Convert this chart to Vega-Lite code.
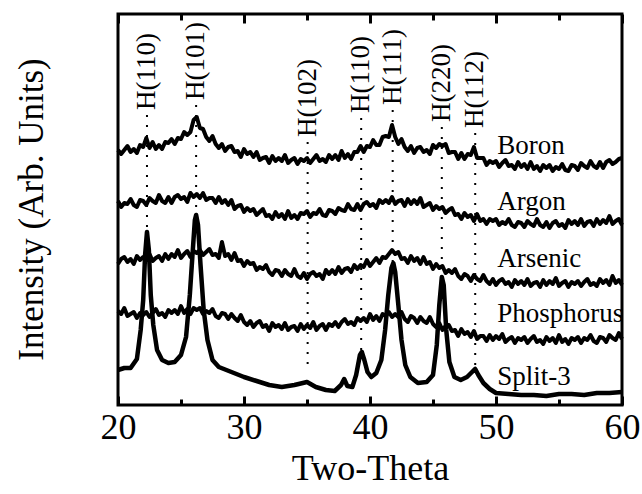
{
  "$schema": "https://vega.github.io/schema/vega-lite/v6.json",
  "width": 504,
  "height": 391,
  "autosize": {"type": "none"},
  "padding": {"left": 118, "top": 14, "right": 20, "bottom": 89},
  "background": "white",
  "config": {
    "view": {"stroke": "black", "strokeWidth": 3},
    "font": "Liberation Serif"
  },
  "datasets": {
    "traces": [
      {"s":"Boron","x":20,"y":255},{"s":"Boron","x":20.25,"y":251},{"s":"Boron","x":20.5,"y":255},{"s":"Boron","x":20.75,"y":259},{"s":"Boron","x":21,"y":253},{"s":"Boron","x":21.25,"y":256},{"s":"Boron","x":21.5,"y":252},{"s":"Boron","x":21.75,"y":260},{"s":"Boron","x":22,"y":258},{"s":"Boron","x":22.25,"y":267},{"s":"Boron","x":22.5,"y":257},{"s":"Boron","x":22.75,"y":263},{"s":"Boron","x":23,"y":256},{"s":"Boron","x":23.25,"y":260},{"s":"Boron","x":23.5,"y":256},{"s":"Boron","x":23.75,"y":263},{"s":"Boron","x":24,"y":262},{"s":"Boron","x":24.25,"y":266},{"s":"Boron","x":24.5,"y":261},{"s":"Boron","x":24.75,"y":267},{"s":"Boron","x":25,"y":266},{"s":"Boron","x":25.25,"y":273},{"s":"Boron","x":25.5,"y":270},{"s":"Boron","x":25.75,"y":273},{"s":"Boron","x":26,"y":285},{"s":"Boron","x":26.25,"y":288},{"s":"Boron","x":26.5,"y":277},{"s":"Boron","x":26.75,"y":276},{"s":"Boron","x":27,"y":268},{"s":"Boron","x":27.25,"y":264},{"s":"Boron","x":27.5,"y":269},{"s":"Boron","x":27.75,"y":261},{"s":"Boron","x":28,"y":257},{"s":"Boron","x":28.25,"y":261},{"s":"Boron","x":28.5,"y":254},{"s":"Boron","x":28.75,"y":258},{"s":"Boron","x":29,"y":259},{"s":"Boron","x":29.25,"y":253},{"s":"Boron","x":29.5,"y":254},{"s":"Boron","x":29.75,"y":248},{"s":"Boron","x":30,"y":256},{"s":"Boron","x":30.25,"y":251},{"s":"Boron","x":30.5,"y":253},{"s":"Boron","x":30.75,"y":248},{"s":"Boron","x":31,"y":253},{"s":"Boron","x":31.25,"y":245},{"s":"Boron","x":31.5,"y":247},{"s":"Boron","x":31.75,"y":248},{"s":"Boron","x":32,"y":242},{"s":"Boron","x":32.25,"y":249},{"s":"Boron","x":32.5,"y":244},{"s":"Boron","x":32.75,"y":247},{"s":"Boron","x":33,"y":244},{"s":"Boron","x":33.25,"y":250},{"s":"Boron","x":33.5,"y":242},{"s":"Boron","x":33.75,"y":245},{"s":"Boron","x":34,"y":247},{"s":"Boron","x":34.25,"y":241},{"s":"Boron","x":34.5,"y":246},{"s":"Boron","x":34.75,"y":244},{"s":"Boron","x":35,"y":247},{"s":"Boron","x":35.25,"y":242},{"s":"Boron","x":35.5,"y":246},{"s":"Boron","x":35.75,"y":250},{"s":"Boron","x":36,"y":244},{"s":"Boron","x":36.25,"y":246},{"s":"Boron","x":36.5,"y":243},{"s":"Boron","x":36.75,"y":250},{"s":"Boron","x":37,"y":246},{"s":"Boron","x":37.25,"y":250},{"s":"Boron","x":37.5,"y":245},{"s":"Boron","x":37.75,"y":254},{"s":"Boron","x":38,"y":247},{"s":"Boron","x":38.25,"y":251},{"s":"Boron","x":38.5,"y":246},{"s":"Boron","x":38.75,"y":253},{"s":"Boron","x":39,"y":253},{"s":"Boron","x":39.25,"y":259},{"s":"Boron","x":39.5,"y":253},{"s":"Boron","x":39.75,"y":259},{"s":"Boron","x":40,"y":258},{"s":"Boron","x":40.25,"y":265},{"s":"Boron","x":40.5,"y":260},{"s":"Boron","x":40.75,"y":260},{"s":"Boron","x":41,"y":268},{"s":"Boron","x":41.25,"y":269},{"s":"Boron","x":41.5,"y":268},{"s":"Boron","x":41.75,"y":280},{"s":"Boron","x":42,"y":268},{"s":"Boron","x":42.25,"y":261},{"s":"Boron","x":42.5,"y":266},{"s":"Boron","x":42.75,"y":258},{"s":"Boron","x":43,"y":254},{"s":"Boron","x":43.25,"y":259},{"s":"Boron","x":43.5,"y":252},{"s":"Boron","x":43.75,"y":257},{"s":"Boron","x":44,"y":258},{"s":"Boron","x":44.25,"y":253},{"s":"Boron","x":44.5,"y":255},{"s":"Boron","x":44.75,"y":251},{"s":"Boron","x":45,"y":260},{"s":"Boron","x":45.25,"y":257},{"s":"Boron","x":45.5,"y":261},{"s":"Boron","x":45.75,"y":259},{"s":"Boron","x":46,"y":261},{"s":"Boron","x":46.25,"y":252},{"s":"Boron","x":46.5,"y":253},{"s":"Boron","x":46.75,"y":253},{"s":"Boron","x":47,"y":246},{"s":"Boron","x":47.25,"y":252},{"s":"Boron","x":47.5,"y":246},{"s":"Boron","x":47.75,"y":251},{"s":"Boron","x":48,"y":250},{"s":"Boron","x":48.25,"y":258},{"s":"Boron","x":48.5,"y":247},{"s":"Boron","x":48.75,"y":247},{"s":"Boron","x":49,"y":247},{"s":"Boron","x":49.25,"y":240},{"s":"Boron","x":49.5,"y":244},{"s":"Boron","x":49.75,"y":242},{"s":"Boron","x":50,"y":244},{"s":"Boron","x":50.25,"y":238},{"s":"Boron","x":50.5,"y":242},{"s":"Boron","x":50.75,"y":245},{"s":"Boron","x":51,"y":239},{"s":"Boron","x":51.25,"y":240},{"s":"Boron","x":51.5,"y":236},{"s":"Boron","x":51.75,"y":243},{"s":"Boron","x":52,"y":238},{"s":"Boron","x":52.25,"y":241},{"s":"Boron","x":52.5,"y":236},{"s":"Boron","x":52.75,"y":243},{"s":"Boron","x":53,"y":236},{"s":"Boron","x":53.25,"y":239},{"s":"Boron","x":53.5,"y":234},{"s":"Boron","x":53.75,"y":240},{"s":"Boron","x":54,"y":237},{"s":"Boron","x":54.25,"y":240},{"s":"Boron","x":54.5,"y":234},{"s":"Boron","x":54.75,"y":238},{"s":"Boron","x":55,"y":236},{"s":"Boron","x":55.25,"y":241},{"s":"Boron","x":55.5,"y":235},{"s":"Boron","x":55.75,"y":234},{"s":"Boron","x":56,"y":240},{"s":"Boron","x":56.25,"y":239},{"s":"Boron","x":56.5,"y":235},{"s":"Boron","x":56.75,"y":242},{"s":"Boron","x":57,"y":239},{"s":"Boron","x":57.25,"y":237},{"s":"Boron","x":57.5,"y":244},{"s":"Boron","x":57.75,"y":239},{"s":"Boron","x":58,"y":237},{"s":"Boron","x":58.25,"y":243},{"s":"Boron","x":58.5,"y":237},{"s":"Boron","x":58.75,"y":243},{"s":"Boron","x":59,"y":245},{"s":"Boron","x":59.25,"y":241},{"s":"Boron","x":59.5,"y":243},{"s":"Boron","x":59.75,"y":246},{"s":"Boron","x":60,"y":247},
      {"s":"Argon","x":20,"y":204},{"s":"Argon","x":20.25,"y":198},{"s":"Argon","x":20.5,"y":202},{"s":"Argon","x":20.75,"y":201},{"s":"Argon","x":21,"y":206},{"s":"Argon","x":21.25,"y":200},{"s":"Argon","x":21.5,"y":198},{"s":"Argon","x":21.75,"y":205},{"s":"Argon","x":22,"y":204},{"s":"Argon","x":22.25,"y":200},{"s":"Argon","x":22.5,"y":207},{"s":"Argon","x":22.75,"y":204},{"s":"Argon","x":23,"y":202},{"s":"Argon","x":23.25,"y":210},{"s":"Argon","x":23.5,"y":204},{"s":"Argon","x":23.75,"y":202},{"s":"Argon","x":24,"y":208},{"s":"Argon","x":24.25,"y":202},{"s":"Argon","x":24.5,"y":208},{"s":"Argon","x":24.75,"y":210},{"s":"Argon","x":25,"y":206},{"s":"Argon","x":25.25,"y":208},{"s":"Argon","x":25.5,"y":203},{"s":"Argon","x":25.75,"y":212},{"s":"Argon","x":26,"y":208},{"s":"Argon","x":26.25,"y":211},{"s":"Argon","x":26.5,"y":207},{"s":"Argon","x":26.75,"y":212},{"s":"Argon","x":27,"y":205},{"s":"Argon","x":27.25,"y":207},{"s":"Argon","x":27.5,"y":207},{"s":"Argon","x":27.75,"y":202},{"s":"Argon","x":28,"y":208},{"s":"Argon","x":28.25,"y":202},{"s":"Argon","x":28.5,"y":205},{"s":"Argon","x":28.75,"y":200},{"s":"Argon","x":29,"y":205},{"s":"Argon","x":29.25,"y":196},{"s":"Argon","x":29.5,"y":199},{"s":"Argon","x":29.75,"y":200},{"s":"Argon","x":30,"y":193},{"s":"Argon","x":30.25,"y":197},{"s":"Argon","x":30.5,"y":194},{"s":"Argon","x":30.75,"y":196},{"s":"Argon","x":31,"y":190},{"s":"Argon","x":31.25,"y":193},{"s":"Argon","x":31.5,"y":196},{"s":"Argon","x":31.75,"y":189},{"s":"Argon","x":32,"y":190},{"s":"Argon","x":32.25,"y":186},{"s":"Argon","x":32.5,"y":193},{"s":"Argon","x":32.75,"y":188},{"s":"Argon","x":33,"y":191},{"s":"Argon","x":33.25,"y":186},{"s":"Argon","x":33.5,"y":194},{"s":"Argon","x":33.75,"y":187},{"s":"Argon","x":34,"y":190},{"s":"Argon","x":34.25,"y":186},{"s":"Argon","x":34.5,"y":192},{"s":"Argon","x":34.75,"y":191},{"s":"Argon","x":35,"y":194},{"s":"Argon","x":35.25,"y":188},{"s":"Argon","x":35.5,"y":192},{"s":"Argon","x":35.75,"y":191},{"s":"Argon","x":36,"y":196},{"s":"Argon","x":36.25,"y":190},{"s":"Argon","x":36.5,"y":189},{"s":"Argon","x":36.75,"y":195},{"s":"Argon","x":37,"y":194},{"s":"Argon","x":37.25,"y":191},{"s":"Argon","x":37.5,"y":197},{"s":"Argon","x":37.75,"y":195},{"s":"Argon","x":38,"y":194},{"s":"Argon","x":38.25,"y":201},{"s":"Argon","x":38.5,"y":196},{"s":"Argon","x":38.75,"y":195},{"s":"Argon","x":39,"y":201},{"s":"Argon","x":39.25,"y":195},{"s":"Argon","x":39.5,"y":201},{"s":"Argon","x":39.75,"y":203},{"s":"Argon","x":40,"y":199},{"s":"Argon","x":40.25,"y":201},{"s":"Argon","x":40.5,"y":197},{"s":"Argon","x":40.75,"y":205},{"s":"Argon","x":41,"y":202},{"s":"Argon","x":41.25,"y":205},{"s":"Argon","x":41.5,"y":202},{"s":"Argon","x":41.75,"y":208},{"s":"Argon","x":42,"y":201},{"s":"Argon","x":42.25,"y":204},{"s":"Argon","x":42.5,"y":205},{"s":"Argon","x":42.75,"y":199},{"s":"Argon","x":43,"y":206},{"s":"Argon","x":43.25,"y":201},{"s":"Argon","x":43.5,"y":205},{"s":"Argon","x":43.75,"y":201},{"s":"Argon","x":44,"y":207},{"s":"Argon","x":44.25,"y":198},{"s":"Argon","x":44.5,"y":200},{"s":"Argon","x":44.75,"y":202},{"s":"Argon","x":45,"y":195},{"s":"Argon","x":45.25,"y":199},{"s":"Argon","x":45.5,"y":196},{"s":"Argon","x":45.75,"y":198},{"s":"Argon","x":46,"y":192},{"s":"Argon","x":46.25,"y":195},{"s":"Argon","x":46.5,"y":197},{"s":"Argon","x":46.75,"y":190},{"s":"Argon","x":47,"y":191},{"s":"Argon","x":47.25,"y":186},{"s":"Argon","x":47.5,"y":192},{"s":"Argon","x":47.75,"y":188},{"s":"Argon","x":48,"y":190},{"s":"Argon","x":48.25,"y":184},{"s":"Argon","x":48.5,"y":191},{"s":"Argon","x":48.75,"y":184},{"s":"Argon","x":49,"y":186},{"s":"Argon","x":49.25,"y":181},{"s":"Argon","x":49.5,"y":186},{"s":"Argon","x":49.75,"y":184},{"s":"Argon","x":50,"y":186},{"s":"Argon","x":50.25,"y":180},{"s":"Argon","x":50.5,"y":183},{"s":"Argon","x":50.75,"y":181},{"s":"Argon","x":51,"y":186},{"s":"Argon","x":51.25,"y":180},{"s":"Argon","x":51.5,"y":178},{"s":"Argon","x":51.75,"y":183},{"s":"Argon","x":52,"y":182},{"s":"Argon","x":52.25,"y":178},{"s":"Argon","x":52.5,"y":184},{"s":"Argon","x":52.75,"y":181},{"s":"Argon","x":53,"y":179},{"s":"Argon","x":53.25,"y":186},{"s":"Argon","x":53.5,"y":180},{"s":"Argon","x":53.75,"y":178},{"s":"Argon","x":54,"y":183},{"s":"Argon","x":54.25,"y":177},{"s":"Argon","x":54.5,"y":182},{"s":"Argon","x":54.75,"y":184},{"s":"Argon","x":55,"y":179},{"s":"Argon","x":55.25,"y":181},{"s":"Argon","x":55.5,"y":177},{"s":"Argon","x":55.75,"y":185},{"s":"Argon","x":56,"y":181},{"s":"Argon","x":56.25,"y":184},{"s":"Argon","x":56.5,"y":180},{"s":"Argon","x":56.75,"y":186},{"s":"Argon","x":57,"y":179},{"s":"Argon","x":57.25,"y":183},{"s":"Argon","x":57.5,"y":184},{"s":"Argon","x":57.75,"y":179},{"s":"Argon","x":58,"y":186},{"s":"Argon","x":58.25,"y":181},{"s":"Argon","x":58.5,"y":185},{"s":"Argon","x":58.75,"y":182},{"s":"Argon","x":59,"y":189},{"s":"Argon","x":59.25,"y":181},{"s":"Argon","x":59.5,"y":184},{"s":"Argon","x":59.75,"y":186},{"s":"Argon","x":60,"y":180},
      {"s":"Arsenic","x":20,"y":141},{"s":"Arsenic","x":20.25,"y":146},{"s":"Arsenic","x":20.5,"y":148},{"s":"Arsenic","x":20.75,"y":143},{"s":"Arsenic","x":21,"y":146},{"s":"Arsenic","x":21.25,"y":141},{"s":"Arsenic","x":21.5,"y":149},{"s":"Arsenic","x":21.75,"y":145},{"s":"Arsenic","x":22,"y":148},{"s":"Arsenic","x":22.25,"y":145},{"s":"Arsenic","x":22.5,"y":151},{"s":"Arsenic","x":22.75,"y":144},{"s":"Arsenic","x":23,"y":147},{"s":"Arsenic","x":23.25,"y":149},{"s":"Arsenic","x":23.5,"y":144},{"s":"Arsenic","x":23.75,"y":151},{"s":"Arsenic","x":24,"y":146},{"s":"Arsenic","x":24.25,"y":151},{"s":"Arsenic","x":24.5,"y":148},{"s":"Arsenic","x":24.75,"y":155},{"s":"Arsenic","x":25,"y":147},{"s":"Arsenic","x":25.25,"y":151},{"s":"Arsenic","x":25.5,"y":154},{"s":"Arsenic","x":25.75,"y":148},{"s":"Arsenic","x":26,"y":154},{"s":"Arsenic","x":26.25,"y":152},{"s":"Arsenic","x":26.5,"y":155},{"s":"Arsenic","x":26.75,"y":150},{"s":"Arsenic","x":27,"y":153},{"s":"Arsenic","x":27.25,"y":156},{"s":"Arsenic","x":27.5,"y":150},{"s":"Arsenic","x":27.75,"y":151},{"s":"Arsenic","x":28,"y":147},{"s":"Arsenic","x":28.25,"y":163},{"s":"Arsenic","x":28.5,"y":149},{"s":"Arsenic","x":28.75,"y":151},{"s":"Arsenic","x":29,"y":145},{"s":"Arsenic","x":29.25,"y":152},{"s":"Arsenic","x":29.5,"y":144},{"s":"Arsenic","x":29.75,"y":145},{"s":"Arsenic","x":30,"y":139},{"s":"Arsenic","x":30.25,"y":144},{"s":"Arsenic","x":30.5,"y":141},{"s":"Arsenic","x":30.75,"y":142},{"s":"Arsenic","x":31,"y":135},{"s":"Arsenic","x":31.25,"y":138},{"s":"Arsenic","x":31.5,"y":136},{"s":"Arsenic","x":31.75,"y":140},{"s":"Arsenic","x":32,"y":133},{"s":"Arsenic","x":32.25,"y":130},{"s":"Arsenic","x":32.5,"y":135},{"s":"Arsenic","x":32.75,"y":134},{"s":"Arsenic","x":33,"y":129},{"s":"Arsenic","x":33.25,"y":135},{"s":"Arsenic","x":33.5,"y":131},{"s":"Arsenic","x":33.75,"y":129},{"s":"Arsenic","x":34,"y":136},{"s":"Arsenic","x":34.25,"y":129},{"s":"Arsenic","x":34.5,"y":127},{"s":"Arsenic","x":34.75,"y":132},{"s":"Arsenic","x":35,"y":126},{"s":"Arsenic","x":35.25,"y":131},{"s":"Arsenic","x":35.5,"y":133},{"s":"Arsenic","x":35.75,"y":129},{"s":"Arsenic","x":36,"y":131},{"s":"Arsenic","x":36.25,"y":126},{"s":"Arsenic","x":36.5,"y":135},{"s":"Arsenic","x":36.75,"y":131},{"s":"Arsenic","x":37,"y":135},{"s":"Arsenic","x":37.25,"y":131},{"s":"Arsenic","x":37.5,"y":138},{"s":"Arsenic","x":37.75,"y":132},{"s":"Arsenic","x":38,"y":136},{"s":"Arsenic","x":38.25,"y":137},{"s":"Arsenic","x":38.5,"y":133},{"s":"Arsenic","x":38.75,"y":140},{"s":"Arsenic","x":39,"y":136},{"s":"Arsenic","x":39.25,"y":140},{"s":"Arsenic","x":39.5,"y":138},{"s":"Arsenic","x":39.75,"y":145},{"s":"Arsenic","x":40,"y":139},{"s":"Arsenic","x":40.25,"y":143},{"s":"Arsenic","x":40.5,"y":147},{"s":"Arsenic","x":40.75,"y":142},{"s":"Arsenic","x":41,"y":148},{"s":"Arsenic","x":41.25,"y":147},{"s":"Arsenic","x":41.5,"y":151},{"s":"Arsenic","x":41.75,"y":155},{"s":"Arsenic","x":42,"y":151},{"s":"Arsenic","x":42.25,"y":153},{"s":"Arsenic","x":42.5,"y":146},{"s":"Arsenic","x":42.75,"y":147},{"s":"Arsenic","x":43,"y":142},{"s":"Arsenic","x":43.25,"y":149},{"s":"Arsenic","x":43.5,"y":144},{"s":"Arsenic","x":43.75,"y":147},{"s":"Arsenic","x":44,"y":141},{"s":"Arsenic","x":44.25,"y":148},{"s":"Arsenic","x":44.5,"y":141},{"s":"Arsenic","x":44.75,"y":143},{"s":"Arsenic","x":45,"y":136},{"s":"Arsenic","x":45.25,"y":141},{"s":"Arsenic","x":45.5,"y":137},{"s":"Arsenic","x":45.75,"y":139},{"s":"Arsenic","x":46,"y":132},{"s":"Arsenic","x":46.25,"y":135},{"s":"Arsenic","x":46.5,"y":132},{"s":"Arsenic","x":46.75,"y":136},{"s":"Arsenic","x":47,"y":129},{"s":"Arsenic","x":47.25,"y":126},{"s":"Arsenic","x":47.5,"y":131},{"s":"Arsenic","x":47.75,"y":129},{"s":"Arsenic","x":48,"y":124},{"s":"Arsenic","x":48.25,"y":130},{"s":"Arsenic","x":48.5,"y":126},{"s":"Arsenic","x":48.75,"y":124},{"s":"Arsenic","x":49,"y":130},{"s":"Arsenic","x":49.25,"y":124},{"s":"Arsenic","x":49.5,"y":121},{"s":"Arsenic","x":49.75,"y":126},{"s":"Arsenic","x":50,"y":120},{"s":"Arsenic","x":50.25,"y":124},{"s":"Arsenic","x":50.5,"y":126},{"s":"Arsenic","x":50.75,"y":121},{"s":"Arsenic","x":51,"y":123},{"s":"Arsenic","x":51.25,"y":118},{"s":"Arsenic","x":51.5,"y":125},{"s":"Arsenic","x":51.75,"y":121},{"s":"Arsenic","x":52,"y":124},{"s":"Arsenic","x":52.25,"y":120},{"s":"Arsenic","x":52.5,"y":126},{"s":"Arsenic","x":52.75,"y":119},{"s":"Arsenic","x":53,"y":122},{"s":"Arsenic","x":53.25,"y":123},{"s":"Arsenic","x":53.5,"y":118},{"s":"Arsenic","x":53.75,"y":125},{"s":"Arsenic","x":54,"y":120},{"s":"Arsenic","x":54.25,"y":124},{"s":"Arsenic","x":54.5,"y":121},{"s":"Arsenic","x":54.75,"y":127},{"s":"Arsenic","x":55,"y":119},{"s":"Arsenic","x":55.25,"y":122},{"s":"Arsenic","x":55.5,"y":124},{"s":"Arsenic","x":55.75,"y":118},{"s":"Arsenic","x":56,"y":123},{"s":"Arsenic","x":56.25,"y":121},{"s":"Arsenic","x":56.5,"y":124},{"s":"Arsenic","x":56.75,"y":119},{"s":"Arsenic","x":57,"y":123},{"s":"Arsenic","x":57.25,"y":126},{"s":"Arsenic","x":57.5,"y":120},{"s":"Arsenic","x":57.75,"y":122},{"s":"Arsenic","x":58,"y":119},{"s":"Arsenic","x":58.25,"y":126},{"s":"Arsenic","x":58.5,"y":122},{"s":"Arsenic","x":58.75,"y":125},{"s":"Arsenic","x":59,"y":120},{"s":"Arsenic","x":59.25,"y":129},{"s":"Arsenic","x":59.5,"y":122},{"s":"Arsenic","x":59.75,"y":125},{"s":"Arsenic","x":60,"y":120},
      {"s":"Phosphorus","x":20,"y":94},{"s":"Phosphorus","x":20.25,"y":91},{"s":"Phosphorus","x":20.5,"y":97},{"s":"Phosphorus","x":20.75,"y":89},{"s":"Phosphorus","x":21,"y":91},{"s":"Phosphorus","x":21.25,"y":93},{"s":"Phosphorus","x":21.5,"y":87},{"s":"Phosphorus","x":21.75,"y":92},{"s":"Phosphorus","x":22,"y":90},{"s":"Phosphorus","x":22.25,"y":93},{"s":"Phosphorus","x":22.5,"y":88},{"s":"Phosphorus","x":22.75,"y":92},{"s":"Phosphorus","x":23,"y":96},{"s":"Phosphorus","x":23.25,"y":90},{"s":"Phosphorus","x":23.5,"y":92},{"s":"Phosphorus","x":23.75,"y":88},{"s":"Phosphorus","x":24,"y":95},{"s":"Phosphorus","x":24.25,"y":92},{"s":"Phosphorus","x":24.5,"y":95},{"s":"Phosphorus","x":24.75,"y":91},{"s":"Phosphorus","x":25,"y":99},{"s":"Phosphorus","x":25.25,"y":92},{"s":"Phosphorus","x":25.5,"y":96},{"s":"Phosphorus","x":25.75,"y":91},{"s":"Phosphorus","x":26,"y":97},{"s":"Phosphorus","x":26.25,"y":95},{"s":"Phosphorus","x":26.5,"y":97},{"s":"Phosphorus","x":26.75,"y":91},{"s":"Phosphorus","x":27,"y":94},{"s":"Phosphorus","x":27.25,"y":92},{"s":"Phosphorus","x":27.5,"y":96},{"s":"Phosphorus","x":27.75,"y":89},{"s":"Phosphorus","x":28,"y":87},{"s":"Phosphorus","x":28.25,"y":92},{"s":"Phosphorus","x":28.5,"y":91},{"s":"Phosphorus","x":28.75,"y":86},{"s":"Phosphorus","x":29,"y":91},{"s":"Phosphorus","x":29.25,"y":87},{"s":"Phosphorus","x":29.5,"y":84},{"s":"Phosphorus","x":29.75,"y":90},{"s":"Phosphorus","x":30,"y":83},{"s":"Phosphorus","x":30.25,"y":80},{"s":"Phosphorus","x":30.5,"y":84},{"s":"Phosphorus","x":30.75,"y":78},{"s":"Phosphorus","x":31,"y":82},{"s":"Phosphorus","x":31.25,"y":84},{"s":"Phosphorus","x":31.5,"y":78},{"s":"Phosphorus","x":31.75,"y":80},{"s":"Phosphorus","x":32,"y":74},{"s":"Phosphorus","x":32.25,"y":82},{"s":"Phosphorus","x":32.5,"y":78},{"s":"Phosphorus","x":32.75,"y":80},{"s":"Phosphorus","x":33,"y":76},{"s":"Phosphorus","x":33.25,"y":82},{"s":"Phosphorus","x":33.5,"y":75},{"s":"Phosphorus","x":33.75,"y":78},{"s":"Phosphorus","x":34,"y":79},{"s":"Phosphorus","x":34.25,"y":74},{"s":"Phosphorus","x":34.5,"y":81},{"s":"Phosphorus","x":34.75,"y":76},{"s":"Phosphorus","x":35,"y":80},{"s":"Phosphorus","x":35.25,"y":77},{"s":"Phosphorus","x":35.5,"y":83},{"s":"Phosphorus","x":35.75,"y":75},{"s":"Phosphorus","x":36,"y":79},{"s":"Phosphorus","x":36.25,"y":81},{"s":"Phosphorus","x":36.5,"y":75},{"s":"Phosphorus","x":36.75,"y":81},{"s":"Phosphorus","x":37,"y":79},{"s":"Phosphorus","x":37.25,"y":83},{"s":"Phosphorus","x":37.5,"y":78},{"s":"Phosphorus","x":37.75,"y":83},{"s":"Phosphorus","x":38,"y":86},{"s":"Phosphorus","x":38.25,"y":81},{"s":"Phosphorus","x":38.5,"y":83},{"s":"Phosphorus","x":38.75,"y":80},{"s":"Phosphorus","x":39,"y":87},{"s":"Phosphorus","x":39.25,"y":84},{"s":"Phosphorus","x":39.5,"y":87},{"s":"Phosphorus","x":39.75,"y":83},{"s":"Phosphorus","x":40,"y":91},{"s":"Phosphorus","x":40.25,"y":85},{"s":"Phosphorus","x":40.5,"y":89},{"s":"Phosphorus","x":40.75,"y":84},{"s":"Phosphorus","x":41,"y":91},{"s":"Phosphorus","x":41.25,"y":89},{"s":"Phosphorus","x":41.5,"y":93},{"s":"Phosphorus","x":41.75,"y":88},{"s":"Phosphorus","x":42,"y":91},{"s":"Phosphorus","x":42.25,"y":88},{"s":"Phosphorus","x":42.5,"y":93},{"s":"Phosphorus","x":42.75,"y":86},{"s":"Phosphorus","x":43,"y":83},{"s":"Phosphorus","x":43.25,"y":89},{"s":"Phosphorus","x":43.5,"y":87},{"s":"Phosphorus","x":43.75,"y":82},{"s":"Phosphorus","x":44,"y":88},{"s":"Phosphorus","x":44.25,"y":84},{"s":"Phosphorus","x":44.5,"y":82},{"s":"Phosphorus","x":44.75,"y":88},{"s":"Phosphorus","x":45,"y":81},{"s":"Phosphorus","x":45.25,"y":78},{"s":"Phosphorus","x":45.5,"y":82},{"s":"Phosphorus","x":45.75,"y":75},{"s":"Phosphorus","x":46,"y":79},{"s":"Phosphorus","x":46.25,"y":80},{"s":"Phosphorus","x":46.5,"y":74},{"s":"Phosphorus","x":46.75,"y":75},{"s":"Phosphorus","x":47,"y":69},{"s":"Phosphorus","x":47.25,"y":76},{"s":"Phosphorus","x":47.5,"y":71},{"s":"Phosphorus","x":47.75,"y":73},{"s":"Phosphorus","x":48,"y":68},{"s":"Phosphorus","x":48.25,"y":74},{"s":"Phosphorus","x":48.5,"y":66},{"s":"Phosphorus","x":48.75,"y":69},{"s":"Phosphorus","x":49,"y":69},{"s":"Phosphorus","x":49.25,"y":64},{"s":"Phosphorus","x":49.5,"y":70},{"s":"Phosphorus","x":49.75,"y":65},{"s":"Phosphorus","x":50,"y":69},{"s":"Phosphorus","x":50.25,"y":66},{"s":"Phosphorus","x":50.5,"y":71},{"s":"Phosphorus","x":50.75,"y":63},{"s":"Phosphorus","x":51,"y":66},{"s":"Phosphorus","x":51.25,"y":68},{"s":"Phosphorus","x":51.5,"y":62},{"s":"Phosphorus","x":51.75,"y":67},{"s":"Phosphorus","x":52,"y":65},{"s":"Phosphorus","x":52.25,"y":68},{"s":"Phosphorus","x":52.5,"y":62},{"s":"Phosphorus","x":52.75,"y":66},{"s":"Phosphorus","x":53,"y":69},{"s":"Phosphorus","x":53.25,"y":63},{"s":"Phosphorus","x":53.5,"y":65},{"s":"Phosphorus","x":53.75,"y":61},{"s":"Phosphorus","x":54,"y":68},{"s":"Phosphorus","x":54.25,"y":64},{"s":"Phosphorus","x":54.5,"y":67},{"s":"Phosphorus","x":54.75,"y":62},{"s":"Phosphorus","x":55,"y":70},{"s":"Phosphorus","x":55.25,"y":63},{"s":"Phosphorus","x":55.5,"y":66},{"s":"Phosphorus","x":55.75,"y":61},{"s":"Phosphorus","x":56,"y":67},{"s":"Phosphorus","x":56.25,"y":65},{"s":"Phosphorus","x":56.5,"y":68},{"s":"Phosphorus","x":56.75,"y":62},{"s":"Phosphorus","x":57,"y":67},{"s":"Phosphorus","x":57.25,"y":65},{"s":"Phosphorus","x":57.5,"y":70},{"s":"Phosphorus","x":57.75,"y":64},{"s":"Phosphorus","x":58,"y":62},{"s":"Phosphorus","x":58.25,"y":68},{"s":"Phosphorus","x":58.5,"y":67},{"s":"Phosphorus","x":58.75,"y":63},{"s":"Phosphorus","x":59,"y":70},{"s":"Phosphorus","x":59.25,"y":67},{"s":"Phosphorus","x":59.5,"y":65},{"s":"Phosphorus","x":59.75,"y":72},{"s":"Phosphorus","x":60,"y":66},
      {"s":"Split-3","x":20,"y":35},{"s":"Split-3","x":20.5,"y":37},{"s":"Split-3","x":21,"y":37},{"s":"Split-3","x":21.5,"y":46},{"s":"Split-3","x":21.8,"y":75},{"s":"Split-3","x":22,"y":105},{"s":"Split-3","x":22.15,"y":150},{"s":"Split-3","x":22.3,"y":173},{"s":"Split-3","x":22.45,"y":155},{"s":"Split-3","x":22.6,"y":110},{"s":"Split-3","x":22.8,"y":80},{"s":"Split-3","x":23.1,"y":55},{"s":"Split-3","x":23.5,"y":45},{"s":"Split-3","x":24,"y":42},{"s":"Split-3","x":24.5,"y":43},{"s":"Split-3","x":25,"y":50},{"s":"Split-3","x":25.4,"y":68},{"s":"Split-3","x":25.7,"y":110},{"s":"Split-3","x":25.9,"y":148},{"s":"Split-3","x":26.1,"y":185},{"s":"Split-3","x":26.2,"y":190},{"s":"Split-3","x":26.35,"y":180},{"s":"Split-3","x":26.55,"y":140},{"s":"Split-3","x":26.8,"y":95},{"s":"Split-3","x":27.1,"y":65},{"s":"Split-3","x":27.5,"y":45},{"s":"Split-3","x":28,"y":38},{"s":"Split-3","x":29,"y":33},{"s":"Split-3","x":30,"y":28},{"s":"Split-3","x":31,"y":24},{"s":"Split-3","x":32,"y":20},{"s":"Split-3","x":33,"y":18},{"s":"Split-3","x":34,"y":20},{"s":"Split-3","x":35,"y":23},{"s":"Split-3","x":35.7,"y":18},{"s":"Split-3","x":36.5,"y":15},{"s":"Split-3","x":37.2,"y":14},{"s":"Split-3","x":37.7,"y":20},{"s":"Split-3","x":37.95,"y":26},{"s":"Split-3","x":38.2,"y":19},{"s":"Split-3","x":38.6,"y":18},{"s":"Split-3","x":38.9,"y":30},{"s":"Split-3","x":39.2,"y":50},{"s":"Split-3","x":39.35,"y":53},{"s":"Split-3","x":39.55,"y":45},{"s":"Split-3","x":39.8,"y":33},{"s":"Split-3","x":40.1,"y":28},{"s":"Split-3","x":40.5,"y":32},{"s":"Split-3","x":40.9,"y":45},{"s":"Split-3","x":41.2,"y":75},{"s":"Split-3","x":41.45,"y":110},{"s":"Split-3","x":41.7,"y":137},{"s":"Split-3","x":41.85,"y":142},{"s":"Split-3","x":42,"y":133},{"s":"Split-3","x":42.25,"y":100},{"s":"Split-3","x":42.5,"y":65},{"s":"Split-3","x":42.8,"y":40},{"s":"Split-3","x":43.2,"y":28},{"s":"Split-3","x":43.8,"y":22},{"s":"Split-3","x":44.5,"y":23},{"s":"Split-3","x":45,"y":30},{"s":"Split-3","x":45.3,"y":60},{"s":"Split-3","x":45.5,"y":100},{"s":"Split-3","x":45.7,"y":128},{"s":"Split-3","x":45.85,"y":120},{"s":"Split-3","x":46.05,"y":75},{"s":"Split-3","x":46.3,"y":43},{"s":"Split-3","x":46.7,"y":28},{"s":"Split-3","x":47.2,"y":25},{"s":"Split-3","x":47.7,"y":28},{"s":"Split-3","x":48.1,"y":33},{"s":"Split-3","x":48.35,"y":36},{"s":"Split-3","x":48.6,"y":30},{"s":"Split-3","x":49,"y":22},{"s":"Split-3","x":49.5,"y":16},{"s":"Split-3","x":50,"y":12},{"s":"Split-3","x":51,"y":11},{"s":"Split-3","x":52,"y":10},{"s":"Split-3","x":53,"y":10},{"s":"Split-3","x":54,"y":9},{"s":"Split-3","x":55,"y":11},{"s":"Split-3","x":56,"y":11},{"s":"Split-3","x":57,"y":10},{"s":"Split-3","x":58,"y":12},{"s":"Split-3","x":59,"y":12},{"s":"Split-3","x":60,"y":13}
    ],
    "peaks": [
      {"x": 22.3, "y": 290, "y2": 175},
      {"x": 26.2, "y": 300, "y2": 192},
      {"x": 35.05, "y": 263, "y2": 35},
      {"x": 39.3, "y": 287, "y2": 55},
      {"x": 41.8, "y": 295, "y2": 142},
      {"x": 45.7, "y": 278, "y2": 128},
      {"x": 48.35, "y": 272, "y2": 37}
    ],
    "peakLabels": [
      {"h": "H(110)", "x": 22.3, "y": 295},
      {"h": "H(101)", "x": 26.2, "y": 305},
      {"h": "H(102)", "x": 35.05, "y": 268},
      {"h": "H(110)", "x": 39.3, "y": 292},
      {"h": "H(111)", "x": 41.8, "y": 300},
      {"h": "H(220)", "x": 45.7, "y": 283},
      {"h": "H(112)", "x": 48.35, "y": 277}
    ],
    "seriesLabels": [
      {"name": "Boron", "x": 50.1, "y": 251},
      {"name": "Argon", "x": 50.1, "y": 195},
      {"name": "Arsenic", "x": 50.1, "y": 138},
      {"name": "Phosphorus", "x": 50.1, "y": 83},
      {"name": "Split-3", "x": 50.1, "y": 20}
    ]
  },
  "encoding": {
    "y": {
      "field": "y",
      "type": "quantitative",
      "scale": {"domain": [0, 391], "nice": false, "zero": false},
      "axis": {
        "orient": "left",
        "title": "Intensity (Arb. Units)",
        "ticks": false,
        "labels": false,
        "domain": false,
        "grid": false,
        "titleFont": "Liberation Serif",
        "titleFontSize": 35,
        "titleFontWeight": "normal",
        "titleColor": "black",
        "titleAngle": -90,
        "titleAlign": "center",
        "titleBaseline": "alphabetic",
        "titleX": -76,
        "titleY": 195
      }
    }
  },
  "resolve": {"axis": {"x": "independent"}},
  "layer": [
    {
      "data": {"name": "peaks"},
      "mark": {"type": "rule", "color": "black", "strokeWidth": 2, "strokeDash": [2, 8], "strokeCap": "butt"},
      "encoding": {
        "x": {
          "field": "x",
          "type": "quantitative",
          "scale": {"domain": [20, 60], "nice": false, "zero": false},
          "axis": {
            "orient": "bottom",
            "values": [20, 30, 40, 50, 60],
            "tickSize": -9,
            "tickWidth": 3,
            "tickColor": "black",
            "domain": false,
            "grid": false,
            "labelFont": "Liberation Serif",
            "labelFontSize": 36,
            "labelColor": "black",
            "labelPadding": 14,
            "labelBaseline": "top",
            "labelFlush": false,
            "labelOverlap": false,
            "title": "Two-Theta",
            "titleFont": "Liberation Serif",
            "titleFontSize": 36,
            "titleFontWeight": "normal",
            "titleColor": "black",
            "titleBaseline": "alphabetic",
            "titleAlign": "center",
            "titleX": 252,
            "titleY": 74
          }
        },
        "y2": {"field": "y2"}
      }
    },
    {
      "data": {"name": "traces"},
      "transform": [{"filter": "datum.s !== 'Split-3'"}],
      "mark": {"type": "line", "color": "black", "strokeWidth": 4, "strokeJoin": "round"},
      "encoding": {
        "x": {
          "field": "x",
          "type": "quantitative",
          "scale": {"domain": [20, 60], "nice": false, "zero": false},
          "axis": {
            "orient": "bottom",
            "values": [25, 35, 45, 55],
            "tickSize": -6,
            "tickWidth": 3,
            "tickColor": "black",
            "domain": false,
            "grid": false,
            "labels": false,
            "title": null
          }
        },
        "detail": {"field": "s"}
      }
    },
    {
      "data": {"name": "traces"},
      "transform": [{"filter": "datum.s === 'Split-3'"}],
      "mark": {"type": "line", "color": "black", "strokeWidth": 4.5, "strokeJoin": "round"},
      "encoding": {
        "x": {
          "field": "x",
          "type": "quantitative",
          "scale": {"domain": [20, 60], "nice": false, "zero": false},
          "axis": {
            "orient": "top",
            "values": [20, 30, 40, 50, 60],
            "tickSize": -9,
            "tickWidth": 3,
            "tickColor": "black",
            "domain": false,
            "grid": false,
            "labels": false,
            "title": null
          }
        }
      }
    },
    {
      "data": {"name": "peakLabels"},
      "mark": {"type": "text", "angle": 270, "align": "left", "baseline": "middle", "font": "Liberation Serif", "fontSize": 27, "color": "black"},
      "encoding": {
        "x": {
          "field": "x",
          "type": "quantitative",
          "scale": {"domain": [20, 60], "nice": false, "zero": false},
          "axis": {
            "orient": "top",
            "values": [25, 35, 45, 55],
            "tickSize": -6,
            "tickWidth": 3,
            "tickColor": "black",
            "domain": false,
            "grid": false,
            "labels": false,
            "title": null
          }
        },
        "text": {"field": "h"}
      }
    },
    {
      "data": {"name": "seriesLabels"},
      "mark": {"type": "text", "align": "left", "baseline": "alphabetic", "font": "Liberation Serif", "fontSize": 27, "color": "black"},
      "encoding": {
        "x": {
          "field": "x",
          "type": "quantitative",
          "scale": {"domain": [20, 60], "nice": false, "zero": false},
          "axis": null
        },
        "text": {"field": "name"}
      }
    }
  ]
}
